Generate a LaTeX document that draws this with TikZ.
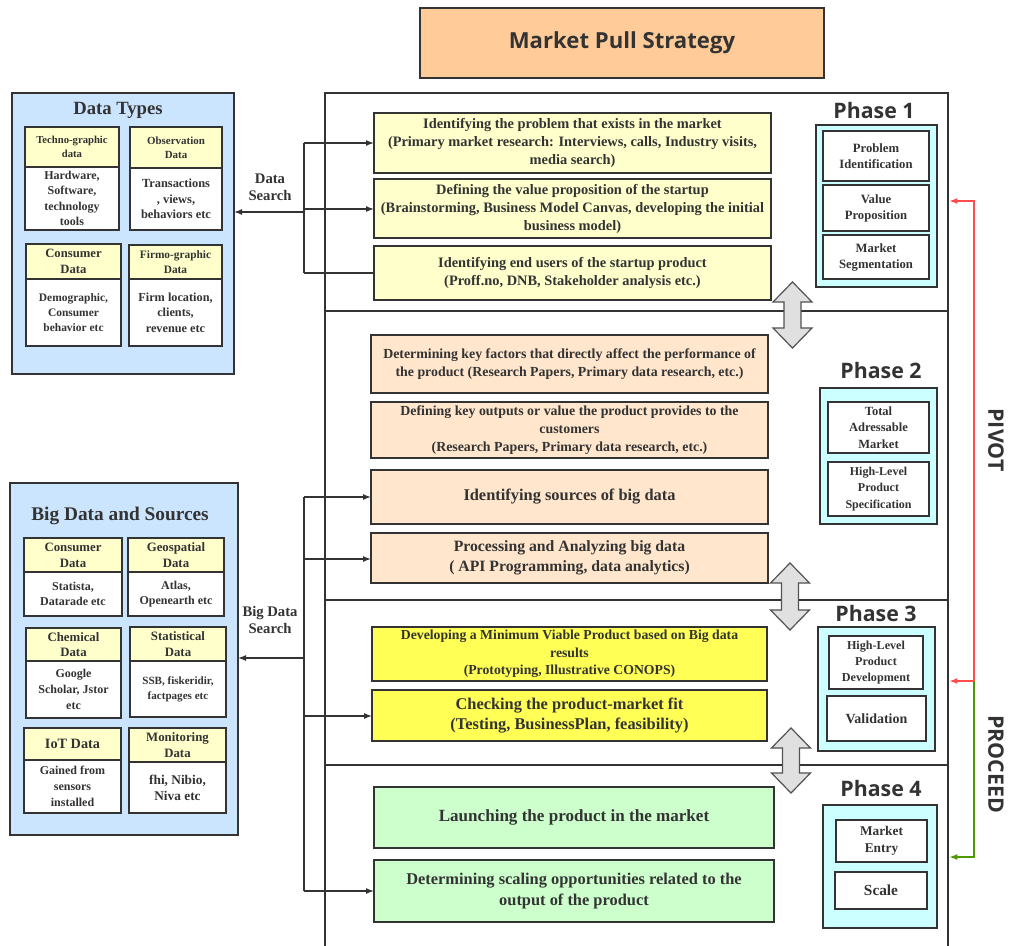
\documentclass[tikz,border=0pt]{standalone}
\usepackage{fontspec}
\setmainfont{Liberation Serif}
\newfontfamily\sansfam{Open Sans}
\usetikzlibrary{arrows.meta}
\definecolor{ink}{HTML}{333333}
\definecolor{titlefill}{HTML}{FFCC99}
\definecolor{bluefill}{HTML}{CCE5FF}
\definecolor{hdrfill}{HTML}{FFFFCC}
\definecolor{ponefill}{HTML}{FFFFCC}
\definecolor{ptwofill}{HTML}{FFE6CC}
\definecolor{pthreefill}{HTML}{FFFF55}
\definecolor{pfourfill}{HTML}{CCFFCC}
\definecolor{cyanfill}{HTML}{CCFFFF}
\definecolor{arrowgray}{HTML}{E0E0E0}
\definecolor{pivotred}{HTML}{FF4D4D}
\definecolor{proceedgreen}{HTML}{4D9900}
\newcommand\bx[7]{%
  \pgfmathsetmacro\bxcx{(#2+#4)/2}%
  \pgfmathsetmacro\bxcy{(#3+#5)/2}%
  \pgfmathsetmacro\bxw{(#4-#2)*0.75}%
  \pgfmathsetmacro\bxh{(#5-#3)*0.75}%
  \node[#6, minimum width=\bxw pt, minimum height=\bxh pt] (#1) at (\bxcx,\bxcy) {#7};}
\newcommand\dblarrow[3]{%
  \draw[bigarrow, shift={(#1,#2)}] (0,0) -- (19.5,20) -- (8.5,20) -- (8.5,#3-20) -- (19.5,#3-20) -- (0,#3)
    -- (-19.5,#3-20) -- (-8.5,#3-20) -- (-8.5,20) -- (-19.5,20) -- cycle;}
\tikzset{
  base/.style={draw=ink, line width=1pt, text=ink, align=center, inner sep=0pt, outer sep=0pt},
  fs/.style 2 args={font=\bfseries\fontsize{#1}{#2}\selectfont},
  hdr/.style={base, fill=hdrfill},
  body/.style={base, fill=white},
  group/.style={base, fill=bluefill, line width=1.1pt},
  frame/.style={draw=ink, line width=2pt, inner sep=0pt, outer sep=0pt},
  pone/.style={base, fill=ponefill},
  ptwo/.style={base, fill=ptwofill},
  pthree/.style={base, fill=pthreefill},
  pfour/.style={base, fill=pfourfill},
  cyanbox/.style={base, fill=cyanfill},
  inbox/.style={base, fill=white, fs={9.5}{12}},
  phlabel/.style={text=ink, font=\sansfam\bfseries\fontsize{16}{16}\selectfont, inner sep=0pt},
  lbl/.style={text=ink, align=center, inner sep=0pt, fs={11}{13}},
  ln/.style={draw=ink, line width=1pt},
  conn/.style={draw=ink, line width=1pt, -{Latex[length=6pt,width=4.5pt]}},
  bigarrow/.style={draw=ink!85, fill=arrowgray, line width=0.9pt, line join=miter},
  pivot/.style={draw=pivotred, line width=1pt},
  proceed/.style={draw=proceedgreen, line width=1pt},
  side/.style={text=ink, font=\sansfam\bfseries\fontsize{16}{16}\selectfont, rotate=-90, inner sep=0pt}
}
\begin{document}
\begin{tikzpicture}[x=0.75pt,y=-0.75pt]
\useasboundingbox (0,0) rectangle (1011,946);
\fill[white] (0,0) rectangle (1011,946);

% title
\bx{title}{420}{8}{824}{78}{base, fill=titlefill, font=\sansfam\bfseries\fontsize{16.6}{16.6}\selectfont}{Market Pull Strategy}

% ---------------- Data Types
\bx{dt}{12}{93}{234}{374}{group}{}
\node[text=ink, inner sep=0pt, fs={14}{14}] (dttitle) at (118,110) {Data Types};
\bx{dtah}{25}{127}{119}{167}{hdr, fs={8}{10.5}}{Techno-graphic\\data}
\bx{dtab}{25}{167}{119}{230}{body, fs={9}{11.5}}{Hardware,\\Software,\\technology\\tools}
\bx{dtbh}{130}{127}{222}{168}{hdr, fs={8.2}{10.5}}{Observation\\Data}
\bx{dtbb}{130}{168}{222}{230}{body, fs={9.3}{11.5}}{Transactions\\, views,\\behaviors etc}
\bx{dtch}{26}{244}{121}{279}{hdr, fs={9.5}{11.8}}{Consumer\\Data}
\bx{dtcb}{26}{279}{121}{346}{body, fs={8.6}{11.3}}{Demographic,\\Consumer\\behavior etc}
\bx{dtdh}{129}{245}{222}{279}{hdr, fs={8.5}{11}}{Firmo-graphic\\Data}
\bx{dtdb}{129}{279}{222}{346}{body, fs={9.2}{11.5}}{Firm location,\\clients,\\revenue etc}

% ---------------- Big Data and Sources
\bx{bd}{10}{483}{238}{835}{group}{}
\node[text=ink, inner sep=0pt, fs={14.5}{14.5}] (bdtitle) at (120,516) {Big Data and Sources};
\bx{bdah}{24}{538}{122}{572}{hdr, fs={9.6}{11.8}}{Consumer\\Data}
\bx{bdab}{24}{572}{122}{616}{body, fs={9}{11.8}}{Statista,\\Datarade etc}
\bx{bdbh}{128}{538}{224}{572}{hdr, fs={9.6}{11.8}}{Geospatial\\Data}
\bx{bdbb}{128}{572}{224}{616}{body, fs={9}{11.8}}{Atlas,\\Openearth etc}
\bx{bdch}{26}{628}{121}{661}{hdr, fs={9.6}{11.8}}{Chemical\\Data}
\bx{bdcb}{26}{661}{121}{718}{body, fs={9}{11.8}}{Google\\Scholar, Jstor\\etc}
\bx{bddh}{130}{627}{226}{661}{hdr, fs={9.6}{11.8}}{Statistical\\Data}
\bx{bddb}{130}{661}{226}{717}{body, fs={8.3}{11}}{SSB, fiskeridir,\\factpages etc}
\bx{bdeh}{24}{728}{121}{760}{hdr, fs={10.7}{12}}{IoT Data}
\bx{bdeb}{24}{760}{121}{813}{body, fs={9}{11.8}}{Gained from\\sensors\\installed}
\bx{bdfh}{129}{728}{226}{762}{hdr, fs={9.6}{11.8}}{Monitoring\\Data}
\bx{bdfb}{129}{762}{226}{813}{body, fs={10}{12}}{fhi, Nibio,\\Niva etc}

% ---------------- Phase frames
\bx{ph1}{325}{93}{948}{311}{frame}{}
\bx{ph2}{325}{311}{948}{600}{frame}{}
\bx{ph3}{325}{600}{948}{765}{frame}{}
\bx{ph4}{325}{765}{948}{975}{frame}{}

\node[phlabel] (ph1lab) at (874,110) {Phase 1};
\node[phlabel] (ph2lab) at (881,370) {Phase 2};
\node[phlabel] (ph3lab) at (876,613) {Phase 3};
\node[phlabel] (ph4lab) at (881,788) {Phase 4};

% Phase 1
\bx{p1a}{374}{113}{771}{173}{pone, fs={10.8}{13.5}}{Identifying the problem that exists in the market\\(Primary market research: Interviews, calls, Industry visits,\\media search)}
\bx{p1b}{374}{179}{771}{238}{pone, fs={10.8}{13.5}}{Defining the value proposition of the startup\\(Brainstorming, Business Model Canvas, developing the initial\\business model)}
\bx{p1c}{374}{246}{771}{300}{pone, fs={10.8}{13.5}}{Identifying end users of the startup product\\(Proff.no, DNB, Stakeholder analysis etc.)}
\bx{c1}{816}{125}{937}{287}{cyanbox}{}
\bx{c1a}{823}{131}{929}{181}{inbox}{Problem\\Identification}
\bx{c1b}{823}{185}{929}{231}{inbox}{Value\\Proposition}
\bx{c1c}{823}{235}{929}{279}{inbox}{Market\\Segmentation}

% Phase 2
\bx{p2a}{371}{335}{768}{393}{ptwo, fs={10.4}{13.3}}{Determining key factors that directly affect the performance of\\the product (Research Papers, Primary data research, etc.)}
\bx{p2b}{371}{402}{768}{458}{ptwo, fs={10.4}{13.3}}{Defining key outputs or value the product provides to the\\customers\\(Research Papers, Primary data research, etc.)}
\bx{p2c}{371}{470}{768}{524}{ptwo, fs={12.3}{15}}{Identifying sources of big data}
\bx{p2d}{371}{533}{768}{583}{ptwo, fs={11.8}{15}}{Processing and Analyzing big data\\( API Programming, data analytics)}
\bx{c2}{820}{388}{937}{524}{cyanbox}{}
\bx{c2a}{828}{402}{929}{453}{inbox, fs={9.4}{12.2}}{Total\\Adressable\\Market}
\bx{c2b}{828}{462}{929}{516}{inbox, fs={9}{12.2}}{High-Level\\Product\\Specification}

% Phase 3
\bx{p3a}{372}{627}{767}{681}{pthree, fs={10.3}{13}}{Developing a Minimum Viable Product based on Big data\\results\\(Prototyping, Illustrative CONOPS)}
\bx{p3b}{372}{690}{767}{741}{pthree, fs={12.3}{15}}{Checking the product-market fit\\(Testing, BusinessPlan, feasibility)}
\bx{c3}{818}{627}{935}{751}{cyanbox}{}
\bx{c3a}{829}{636}{923}{689}{inbox, fs={9.1}{12}}{High-Level\\Product\\Development}
\bx{c3b}{827}{696}{926}{741}{inbox, fs={10.5}{12}}{Validation}

% Phase 4
\bx{p4a}{374}{787}{774}{848}{pfour, fs={12.8}{15.5}}{Launching the product in the market}
\bx{p4b}{374}{860}{774}{922}{pfour, fs={12.3}{15.7}}{Determining scaling opportunities related to the\\output of the product}
\bx{c4}{823}{805}{937}{928}{cyanbox}{}
\bx{c4a}{836}{820}{927}{862}{inbox, fs={10}{12.5}}{Market\\Entry}
\bx{c4b}{835}{872}{927}{909}{inbox, fs={11.5}{12}}{Scale}

% big double arrows between phases
\dblarrow{792.5}{282}{66}
\dblarrow{790}{563}{67}
\dblarrow{791}{728}{65}

% ---------------- Data Search connectors
\node[lbl] (dslab) at (270,187) {Data\\Search};
\coordinate (dsTop) at (304,143);
\coordinate (dsMid) at (304,212);
\coordinate (dsBot) at (304,273);
\draw[ln] (dsTop) -- (dsBot);
\draw[conn] (dsTop) -- (dsTop -| p1a.west);
\draw[conn] (304,209) -- (p1b.west |- 0,209);
\draw[ln] (dsBot) -- (dsBot -| p1c.west);
\draw[conn] (dsMid) -- (dsMid -| dt.east);

% ---------------- Big Data Search connectors
\node[lbl] (bslab) at (270,620) {Big Data\\Search};
\coordinate (bsTop) at (304,497);
\coordinate (bsMid) at (304,658);
\coordinate (bsBot) at (304,891);
\draw[ln] (bsTop) -- (bsBot);
\draw[conn] (bsTop) -- (bsTop -| p2c.west);
\draw[conn] (304,559) -- (p2d.west |- 0,559);
\draw[conn] (304,716) -- (p3b.west |- 0,716);
\draw[conn] (bsBot) -- (bsBot -| p4b.west);
\draw[conn] (bsMid) -- (bsMid -| bd.east);

% ---------------- Pivot / Proceed
\coordinate (pvTop) at (974,201);
\coordinate (pvMid) at (974,681);
\coordinate (pvBot) at (974,857);
\draw[pivot, {Latex[length=6pt,width=4.5pt]}-{Latex[length=6pt,width=4.5pt]}, shorten <=1pt, shorten >=1pt]
  (pvTop -| ph1.east) -- (pvTop) -- (pvMid) -- (pvMid -| ph3.east);
\draw[proceed, -{Latex[length=6pt,width=4.5pt]}, shorten >=1pt]
  (pvMid) -- (pvBot) -- (pvBot -| ph4.east);
\node[side] (pivotlab) at (996,440) {PIVOT};
\node[side] (proceedlab) at (996,764) {PROCEED};
\end{tikzpicture}
\end{document}
